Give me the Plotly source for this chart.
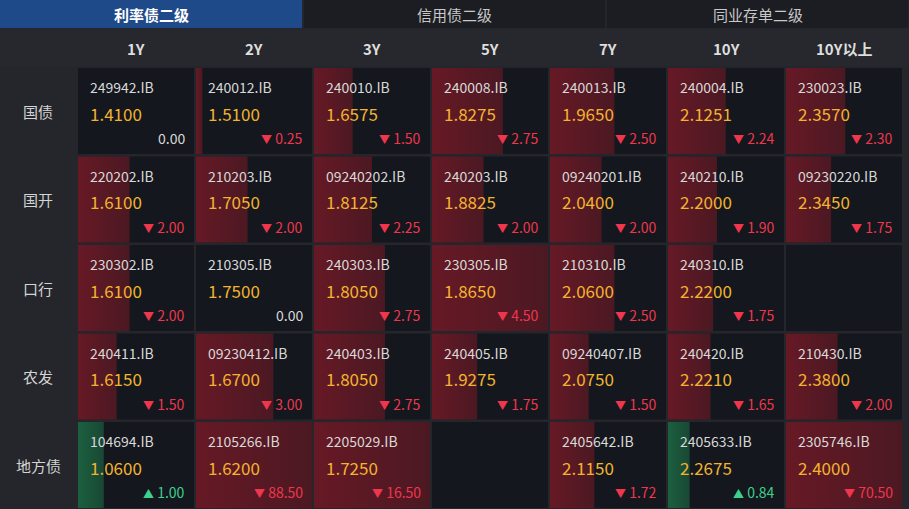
import plotly.graph_objects as go

tabs = ["利率债二级", "信用债二级", "同业存单二级"]
cols = ["1Y", "2Y", "3Y", "5Y", "7Y", "10Y", "10Y以上"]
rows = ["国债", "国开", "口行", "农发", "地方债"]
codes = [
    ["249942.IB", "240012.IB", "240010.IB", "240008.IB", "240013.IB", "240004.IB", "230023.IB"],
    ["220202.IB", "210203.IB", "09240202.IB", "240203.IB", "09240201.IB", "240210.IB", "09230220.IB"],
    ["230302.IB", "210305.IB", "240303.IB", "230305.IB", "210310.IB", "240310.IB", None],
    ["240411.IB", "09230412.IB", "240403.IB", "240405.IB", "09240407.IB", "240420.IB", "210430.IB"],
    ["104694.IB", "2105266.IB", "2205029.IB", None, "2405642.IB", "2405633.IB", "2305746.IB"],
]
yields = [
    ["1.4100", "1.5100", "1.6575", "1.8275", "1.9650", "2.1251", "2.3570"],
    ["1.6100", "1.7050", "1.8125", "1.8825", "2.0400", "2.2000", "2.3450"],
    ["1.6100", "1.7500", "1.8050", "1.8650", "2.0600", "2.2200", None],
    ["1.6150", "1.6700", "1.8050", "1.9275", "2.0750", "2.2210", "2.3800"],
    ["1.0600", "1.6200", "1.7250", None, "2.1150", "2.2675", "2.4000"],
]
changes = [
    [0.00, -0.25, -1.50, -2.75, -2.50, -2.24, -2.30],
    [-2.00, -2.00, -2.25, -2.00, -2.00, -1.90, -1.75],
    [-2.00, 0.00, -2.75, -4.50, -2.50, -1.75, None],
    [-1.50, -3.00, -2.75, -1.75, -1.50, -1.65, -2.00],
    [1.00, -88.50, -16.50, None, -1.72, 0.84, -70.50],
]

W, H = 909, 509
col_x0 = 78
col_pitch = 118
cell_w = 116
row_y0 = 68
row_pitch = 88.5
cell_h = 86

fig = go.Figure()
shapes = []
ann = []

tab_w = W / 3
for i, t in enumerate(tabs):
    shapes.append(dict(type="rect", x0=i * tab_w + (0 if i == 0 else 1), x1=(i + 1) * tab_w - 1, y0=0, y1=28,
                       fillcolor="#1f4a8a" if i == 0 else "#1c1d22", line_width=0, layer="below"))
    ann.append(dict(x=(i + 0.5) * tab_w, y=14, text=f"<b>{t}</b>" if i == 0 else t, showarrow=False,
                    font=dict(size=15, color="#ffffff" if i == 0 else "#c8c8c8")))
shapes.append(dict(type="rect", x0=0, x1=W, y0=29, y1=66, fillcolor="#26282d", line_width=0, layer="below"))
for j, c in enumerate(cols):
    ann.append(dict(x=col_x0 + j * col_pitch + cell_w / 2, y=48, text=f"<b>{c}</b>", showarrow=False,
                    font=dict(size=15, color="#dedede")))
for i, r in enumerate(rows):
    ann.append(dict(x=38, y=row_y0 + i * row_pitch + cell_h / 2, text=r, showarrow=False,
                    font=dict(size=15, color="#d4d4d4")))

for i in range(len(rows)):
    for j in range(len(cols)):
        x0 = col_x0 + j * col_pitch
        y0 = row_y0 + i * row_pitch
        shapes.append(dict(type="rect", x0=x0, x1=x0 + cell_w, y0=y0, y1=y0 + cell_h,
                           fillcolor="#14171d", line_width=0, layer="below"))
        code = codes[i][j]
        if code is None:
            continue
        ch = changes[i][j]
        if ch != 0:
            frac = min(abs(ch) / 4.5, 1.0)
            base = "130,26,40" if ch < 0 else "30,120,75"
            bw = cell_w * frac
            fig.add_trace(go.Scatter(
                x=[x0, x0 + bw, x0 + bw, x0, x0], y=[y0, y0, y0 + cell_h, y0 + cell_h, y0],
                mode="lines", line=dict(width=0), fill="toself", hoverinfo="skip",
                fillcolor=f"rgba({base},0.6)",
                fillgradient=dict(type="horizontal",
                                  colorscale=[[0, f"rgba({base},0.75)"], [1, f"rgba({base},0.5)"]]),
                showlegend=False))
        ann.append(dict(x=x0 + 10, y=y0 + 19, text=code, showarrow=False, xanchor="left",
                        font=dict(size=14, color="#d8d8d8")))
        ann.append(dict(x=x0 + 10, y=y0 + 45, text=yields[i][j], showarrow=False, xanchor="left",
                        font=dict(size=17, color="#f2b330")))
        if ch == 0:
            t, colr = f"{abs(ch):.2f}", "#d8d8d8"
        elif ch < 0:
            t, colr = f"<span style='font-size:11px'>▼</span> {abs(ch):.2f}", "#f0364c"
        else:
            t, colr = f"<span style='font-size:11px'>▲</span> {abs(ch):.2f}", "#3ed08e"
        ann.append(dict(x=x0 + cell_w - 7, y=y0 + 70, text=t, showarrow=False, xanchor="right",
                        font=dict(size=14, color=colr)))

fig.update_layout(
    width=W, height=H, margin=dict(l=0, r=0, t=0, b=0),
    paper_bgcolor="#24262b", plot_bgcolor="#24262b",
    xaxis=dict(range=[0, W], visible=False, fixedrange=True),
    yaxis=dict(range=[H, 0], visible=False, fixedrange=True),
    shapes=shapes, annotations=ann,
    font=dict(family="Noto Sans CJK SC, Noto Sans, sans-serif"),
)
fig.write_html("out.html", config={"displayModeBar": False},
               post_script="document.body.style.margin='0';document.body.style.overflow='hidden';")
